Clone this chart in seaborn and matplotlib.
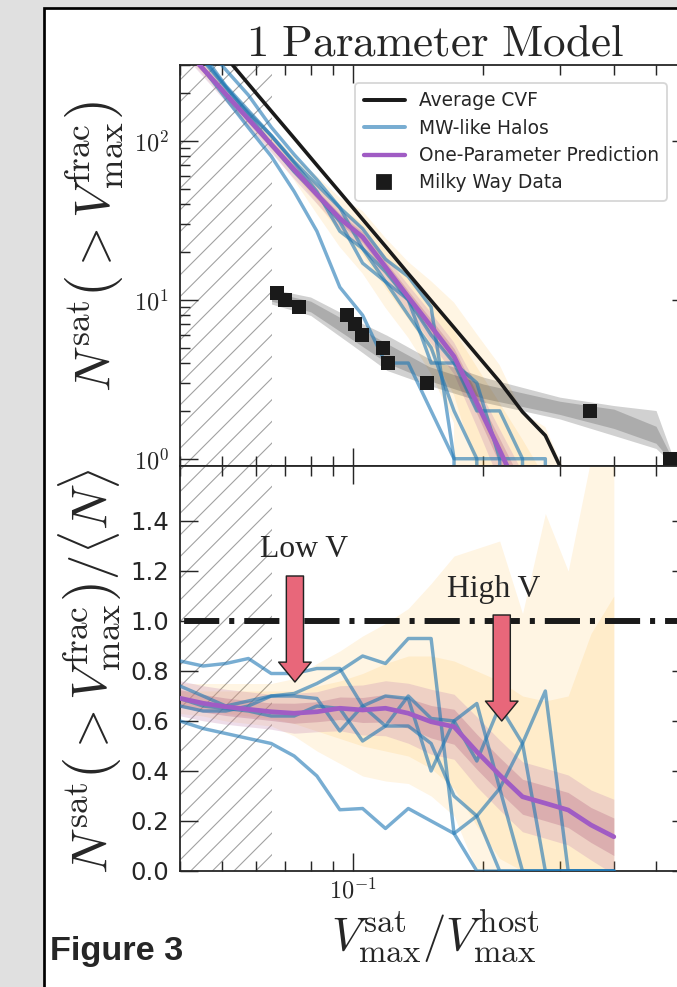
import numpy as np
import seaborn as sns
import matplotlib.pyplot as plt
from matplotlib.patches import Rectangle
from matplotlib.lines import Line2D
from matplotlib.ticker import NullFormatter

# ---- values ----
# V_max^sat / V_max^host grid
vfrac = [0.0400, 0.0452, 0.0510, 0.0575, 0.0649, 0.0733, 0.0827, 0.0934, 0.1054, 0.1190,
         0.1343, 0.1516, 0.1712, 0.1932, 0.2181, 0.2462, 0.2779, 0.3137, 0.3541, 0.3997]

# top panel: cumulative counts
avg_cvf = [740, 500, 337, 228, 154, 104, 70.3, 47.5, 32.1, 21.7,
           14.6, 9.88, 6.68, 4.51, 3.05, 1.97, 1.40, 0.70, 0.40, 0.20]
pred_top = [408, 284, 197, 137, 95, 66, 46, 32.5, 24.8, 16.1,
            10.4, 6.8, 4.4, 2.25, 1.13, 0.56, 0.30, 0.15, 0.08, 0.04]
halo_a = [622, 410, 280, 194, 122, 82, 57, 38, 21, 13, 10, 6, 4, 2, 2, 1, 0, 0, 0, 0]
halo_b = [511, 330, 219, 146, 95, 64, 46, 31, 17, 13, 8, 5, 2, 1, 0, 0, 0, 0, 0, 0]
halo_c = [548, 350, 222, 155, 108, 73, 48, 27, 21, 15, 10, 4, 4, 3, 1, 0, 0, 0, 0, 0]
halo_d = [488, 320, 216, 150, 108, 74, 53, 38, 28, 18, 14, 9, 1, 0, 0, 0, 0, 0, 0, 0]
halo_e = [444, 285, 185, 121, 80, 48, 27, 12, 8, 4, 4, 2, 1, 1, 1, 1, 1, 0, 0, 0]

# bottom panel: ratio to the average
ratio_a = [0.84, 0.82, 0.83, 0.85, 0.79, 0.79, 0.81, 0.81, 0.66, 0.58,
           0.70, 0.61, 0.60, 0.44, 0.66, 0.51, 0, 0, 0, 0]
ratio_b = [0.69, 0.66, 0.65, 0.64, 0.62, 0.62, 0.66, 0.65, 0.52, 0.58,
           0.58, 0.51, 0.30, 0.22, 0, 0, 0, 0, 0, 0]
ratio_c = [0.74, 0.70, 0.66, 0.68, 0.70, 0.70, 0.69, 0.56, 0.66, 0.70,
           0.69, 0.40, 0.60, 0.67, 0.33, 0, 0, 0, 0, 0]
ratio_d = [0.66, 0.64, 0.64, 0.66, 0.70, 0.71, 0.75, 0.80, 0.86, 0.83,
           0.93, 0.93, 0.15, 0, 0, 0, 0, 0, 0, 0]
ratio_e = [0.60, 0.57, 0.55, 0.53, 0.51, 0.46, 0.38, 0.245, 0.25, 0.17,
           0.25, 0.20, 0.15, 0.22, 0.33, 0.51, 0.72, 0, 0, 0]
pred_ratio = [0.691, 0.671, 0.657, 0.647, 0.637, 0.631, 0.637, 0.651, 0.644, 0.651,
              0.631, 0.597, 0.577, 0.477, 0.384, 0.297, 0.271, 0.244, 0.184, 0.137]
# half widths of the prediction bands (1 and 2 sigma)
pred_w1 = [0.035, 0.035, 0.035, 0.035, 0.035, 0.04, 0.04, 0.045, 0.05, 0.055,
           0.06, 0.065, 0.07, 0.07, 0.07, 0.07, 0.07, 0.07, 0.07, 0.075]
pred_w2 = [0.07, 0.07, 0.07, 0.07, 0.07, 0.08, 0.08, 0.09, 0.10, 0.11,
           0.12, 0.13, 0.13, 0.14, 0.14, 0.14, 0.14, 0.14, 0.14, 0.15]
# halo-to-halo scatter bands
scat_lo2 = [0.63, 0.62, 0.60, 0.59, 0.58, 0.54, 0.48, 0.43, 0.38, 0.36,
            0.35, 0.30, 0.22, 0, 0, 0, 0, 0, 0, 0]
scat_hi2 = [0.75, 0.75, 0.75, 0.75, 0.75, 0.77, 0.83, 0.88, 0.94, 0.99,
            1.05, 1.15, 1.26, 1.29, 1.32, 1.03, 1.43, 1.20, 1.65, 1.65]
scat_lo1 = [0.66, 0.65, 0.63, 0.62, 0.61, 0.59, 0.56, 0.53, 0.50, 0.48,
            0.46, 0.41, 0.33, 0.18, 0.05, 0, 0, 0, 0, 0]
scat_hi1 = [0.72, 0.72, 0.72, 0.72, 0.72, 0.72, 0.74, 0.76, 0.79, 0.83,
            0.86, 0.86, 0.84, 0.80, 0.76, 0.70, 0.68, 0.70, 0.95, 1.10]

# Milky Way satellites
mw_vfrac = [0.0671, 0.0698, 0.0754, 0.0969, 0.1012, 0.1049, 0.1177, 0.1208, 0.1486, 0.353, 0.538]
mw_nsat = [11, 10, 9, 8, 7, 6, 5, 4, 3, 2, 1]
mw_band_x = [0.065, 0.08, 0.10, 0.12, 0.15, 0.20, 0.30, 0.40, 0.50, 0.55]
mw_lo2 = [9.4, 7.97, 5.16, 3.59, 2.89, 2.27, 1.78, 1.40, 1.16, 0.91]
mw_hi2 = [11.7, 10.4, 7.6, 5.97, 4.26, 3.26, 2.44, 2.16, 2.01, 0.98]
mw_lo1 = [9.8, 8.4, 5.6, 4.0, 3.1, 2.4, 1.9, 1.55, 1.25, 0.92]
mw_hi1 = [11.2, 9.8, 7.0, 5.3, 3.8, 2.95, 2.3, 2.05, 1.6, 0.95]

resolution_cut = 0.065

sns.set_theme(style="ticks")
plt.rcParams.update({
    "font.family": ["DejaVu Sans"],
    "mathtext.fontset": "cm",
    "hatch.color": "#a0a0a0",
    "hatch.linewidth": 0.6,
    "axes.edgecolor": "#262626",
    "axes.linewidth": 1.0,
})

W, H, DPI = 677, 987, 130
fig = plt.figure(figsize=(W / DPI, H / DPI), dpi=DPI, facecolor="#e0e0e0")
fig.add_artist(Rectangle((44 / W, -0.05), 1.1, 1.05 - 8 / H, transform=fig.transFigure,
                         facecolor="white", edgecolor="black", lw=1.5, zorder=-1))


def px_box(left, top, right, bottom):
    return [left / W, 1 - bottom / H, (right - left) / W, (bottom - top) / H]


ax1 = fig.add_axes(px_box(180, 65, 690.4, 466))
ax2 = fig.add_axes(px_box(180, 466, 690.4, 871), sharex=ax1)
ax1.set_xscale("log")
ax1.set_yscale("log")
ax1.set_xlim(0.04, 0.6)
ax1.set_ylim(0.9, 300)
ax2.set_ylim(0, 1.62)

blue = "#1f77b4"
purple = "#a05cc4"
orange = "#ffa500"
x = np.array(vfrac)
pr = np.array(pred_ratio)
pt = np.array(pred_top)

# hatched unresolved region
for ax in (ax1, ax2):
    ax.axvspan(0.04, resolution_cut, facecolor="none", edgecolor="#a0a0a0",
               hatch="//", lw=0, zorder=0.5)

# ---- top panel ----
for lo, hi in ((scat_lo2, scat_hi2), (scat_lo1, scat_hi1)):
    ax1.fill_between(x, pt * np.array(lo) / pr, pt * np.array(hi) / pr,
                     color=orange, alpha=0.11, lw=0, zorder=1)
ax1.fill_between(x, pt * (pr - pred_w2) / pr, pt * (pr + pred_w2) / pr,
                 color="#c890b8", alpha=0.3, lw=0, zorder=2)
ax1.fill_between(x, pt * (pr - pred_w1) / pr, pt * (pr + pred_w1) / pr,
                 color="#b8708a", alpha=0.35, lw=0, zorder=2)
for lo, hi in ((mw_lo2, mw_hi2), (mw_lo1, mw_hi1)):
    ax1.fill_between(mw_band_x, lo, hi, color="k", alpha=0.2, lw=0, zorder=2)
for counts in (halo_a, halo_b, halo_c, halo_d, halo_e):
    sns.lineplot(x=x, y=counts, ax=ax1, color=blue, alpha=0.6, lw=1.9,
                 legend=False, zorder=3)
sns.lineplot(x=x, y=pred_top, ax=ax1, color=purple, lw=2.6, legend=False, zorder=4)
sns.lineplot(x=x, y=avg_cvf, ax=ax1, color="k", lw=2.0, legend=False, zorder=5)
sns.scatterplot(x=mw_vfrac, y=mw_nsat, ax=ax1, marker="s", s=68, color="k",
                linewidth=0, legend=False, zorder=6)

# ---- bottom panel ----
for lo, hi in ((scat_lo2, scat_hi2), (scat_lo1, scat_hi1)):
    ax2.fill_between(x, lo, hi, color=orange, alpha=0.11, lw=0, zorder=1)
ax2.fill_between(x, pr - pred_w2, pr + pred_w2, color="#c890b8", alpha=0.3, lw=0, zorder=2)
ax2.fill_between(x, pr - pred_w1, pr + pred_w1, color="#b8708a", alpha=0.35, lw=0, zorder=2)
for ratio in (ratio_a, ratio_b, ratio_c, ratio_d, ratio_e):
    sns.lineplot(x=x, y=ratio, ax=ax2, color=blue, alpha=0.6, lw=1.9,
                 legend=False, zorder=3)
sns.lineplot(x=x, y=pred_ratio, ax=ax2, color=purple, lw=2.6, legend=False, zorder=4)
ax2.axhline(1.0, color="k", lw=3.3, ls=(9.4, (5.9, 1.67, 0.85, 1.67)), zorder=5)

arrow_kw = dict(arrowstyle="simple,head_length=1.1,head_width=1.8,tail_width=0.95",
                mutation_scale=10, fc="#e8677a", ec="#222222", lw=0.8,
                shrinkA=0, shrinkB=0)
ax2.annotate("", xy=(0.0736, 0.756), xytext=(0.0736, 1.18), arrowprops=arrow_kw, zorder=7)
ax2.annotate("", xy=(0.2205, 0.60), xytext=(0.2205, 1.024), arrowprops=arrow_kw, zorder=7)
ax2.text(0.0774, 1.257, "Low V", ha="center", va="baseline", fontsize=17.5,
         family=["Liberation Serif", "DejaVu Serif"], zorder=7)
ax2.text(0.2116, 1.097, "High V", ha="center", va="baseline", fontsize=17.5,
         family=["Liberation Serif", "DejaVu Serif"], zorder=7)

# ---- axes cosmetics ----
for ax in (ax1, ax2):
    ax.tick_params(which="both", direction="in", top=True, right=True,
                   color="#262626", labelsize=13.5, pad=6)
    ax.tick_params(which="major", length=10, width=0.8)
    ax.tick_params(which="minor", length=5.5, width=0.8)
ax2.set_xticks([0.1], [r"$10^{-1}$"])
ax2.xaxis.set_minor_formatter(NullFormatter())
ax2.tick_params(axis="x", pad=4)
ax1.tick_params(labelbottom=False)
ax1.set_yticks([1, 10, 100], [r"$10^{0}$", r"$10^{1}$", r"$10^{2}$"])
ax1.yaxis.set_minor_formatter(NullFormatter())
ax2.set_yticks([0, 0.2, 0.4, 0.6, 0.8, 1.0, 1.2, 1.4],
               ["0.0", "0.2", "0.4", "0.6", "0.8", "1.0", "1.2", "1.4"])
ax1.set_xlim(0.04, 0.6)

handles = [Line2D([], [], color="k", lw=2.2),
           Line2D([], [], color=blue, alpha=0.6, lw=2.2),
           Line2D([], [], color=purple, lw=2.4),
           Line2D([], [], ls="none", marker="s", color="k", ms=8)]
labels = ["Average CVF", "MW-like Halos", "One-Parameter Prediction", "Milky Way Data"]
ax1.legend(handles, labels, loc="upper right",
           bbox_to_anchor=((667 - 180) / 510.4, (466 - 83) / 401), borderaxespad=0,
           fontsize=10.3, frameon=True, fancybox=True, framealpha=0.8, edgecolor="0.8",
           labelspacing=0.45, handlelength=2.2, handletextpad=0.75, borderpad=0.45)

ax1.set_title(r"$\mathrm{1\ Parameter\ Model}$", fontsize=25, pad=5.5)
fig.text(95 / W, 1 - 246 / H, r"$N^{\rm sat}\left( > V^{\rm frac}_{\rm max}\right)$",
         rotation=90, ha="center", va="center", fontsize=28)
fig.text(90 / W, 1 - 671 / H,
         r"$N^{\rm sat}\left( > V^{\rm frac}_{\rm max}\right)/\langle N\rangle$",
         rotation=90, ha="center", va="center", fontsize=28)
fig.text(435 / W, 1 - 936 / H, r"$V^{\rm sat}_{\rm max}/V^{\rm host}_{\rm max}$",
         ha="center", va="center", fontsize=26)
fig.text(50 / W, 1 - 960 / H, "Figure 3", ha="left", va="baseline", fontsize=19,
         fontweight="bold", family=["Liberation Sans Narrow", "Liberation Sans", "DejaVu Sans"])

fig.savefig("out.png", dpi=DPI, facecolor=fig.get_facecolor())
